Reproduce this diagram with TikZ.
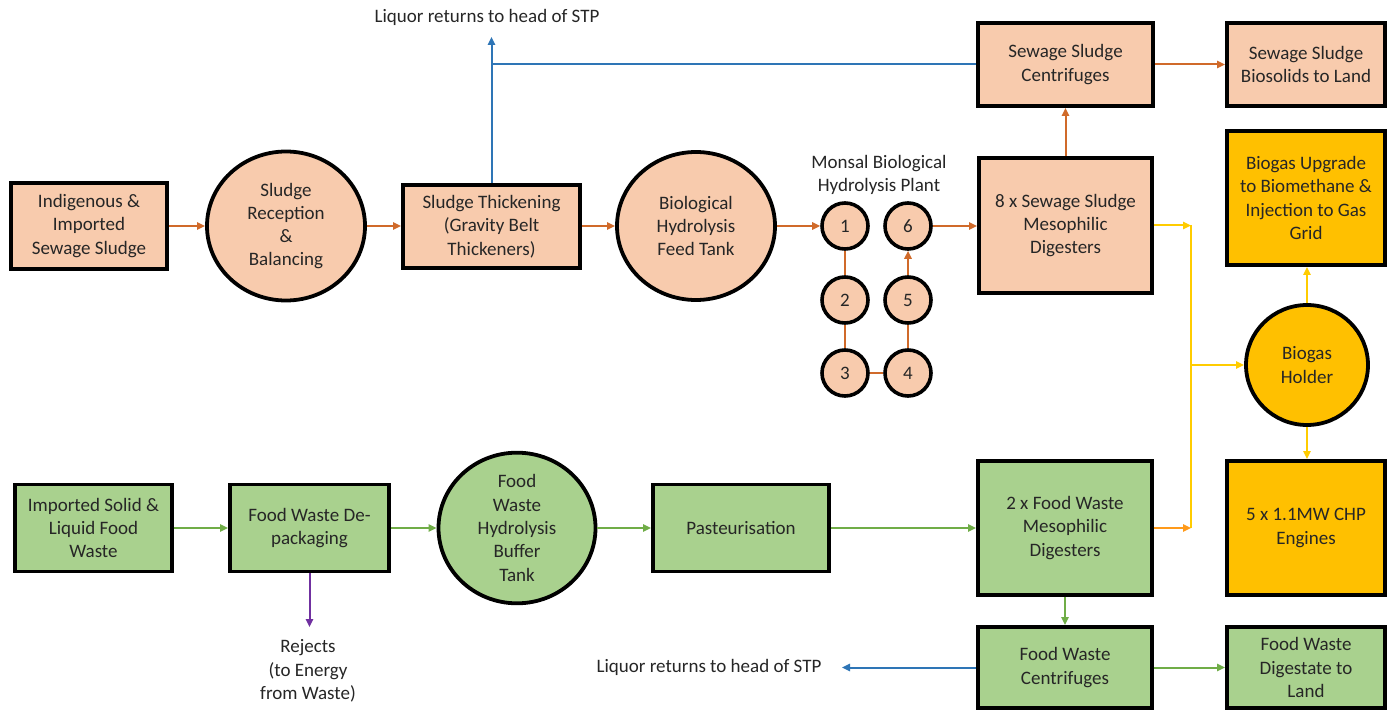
\documentclass[tikz,border=0pt]{standalone}
\usepackage{fontspec}
\setmainfont{Carlito}
\usetikzlibrary{arrows.meta,shapes.geometric}
\definecolor{peach}{HTML}{F8CBAD}
\definecolor{lgreen}{HTML}{A9D18E}
\definecolor{gold}{HTML}{FFC000}
\definecolor{brn}{HTML}{D06A2A}
\definecolor{blu}{HTML}{2E75B6}
\definecolor{grn}{HTML}{70AD47}
\definecolor{ylw}{HTML}{FFCC00}
\definecolor{org}{HTML}{FF9A1A}
\definecolor{prp}{HTML}{7030A0}
\definecolor{txt}{HTML}{262626}
\tikzset{
  lbl/.style={font=\fontsize{9.5}{11.65}\selectfont, text=txt, align=center, inner sep=0pt},
  box/.style={lbl, draw=black, line width=1.9pt, rectangle},
  tank/.style={lbl, draw=black, line width=1.9pt, ellipse},
  stage/.style={lbl, draw=black, line width=1.8pt, circle, minimum size=23pt, fill=peach},
  flow/.style={line width=1pt, -{Triangle[length=4pt,width=3.6pt]}},
  pipe/.style={line width=1pt},
}
\begin{document}
\begin{tikzpicture}[x=0.5pt,y=-0.5pt]
\useasboundingbox[fill=white] (0,0) rectangle (1387,711);
% sewage sludge line
\node[box, fill=peach, minimum width=78pt, minimum height=43pt] (ind) at (89,226) {Indigenous \&\\Imported\\Sewage Sludge};
\node[tank, fill=peach, minimum width=79pt, minimum height=74.5pt] (rec) at (286,226) {Sludge\\Reception\\\&\\Balancing};
\node[box, fill=peach, minimum width=88.5pt, minimum height=41.5pt] (thk) at (491.5,226.5) {Sludge Thickening\\(Gravity Belt\\Thickeners)};
\node[tank, fill=peach, minimum width=79pt, minimum height=74pt] (feed) at (696,226) {Biological\\Hydrolysis\\Feed Tank};
\node[lbl] (monsal) at (879,175) {Monsal Biological\\Hydrolysis Plant};
\node[stage] (c1) at (845,226) {1};
\node[stage] (c2) at (845,300) {2};
\node[stage] (c3) at (845,373) {3};
\node[stage] (c4) at (908,373) {4};
\node[stage] (c5) at (908,300) {5};
\node[stage] (c6) at (908,226) {6};
\node[box, fill=peach, minimum width=86.5pt, minimum height=67.5pt] (dig8) at (1065.5,225.5) {8 x Sewage Sludge\\Mesophilic\\Digesters};
\node[box, fill=peach, minimum width=87.5pt, minimum height=41.5pt] (ssc) at (1065.5,64.5) {Sewage Sludge\\Centrifuges};
\node[box, fill=peach, minimum width=79pt, minimum height=41.5pt] (bio) at (1306,64.5) {Sewage Sludge\\Biosolids to Land};
\node[lbl] (liqtop) at (487,17) {Liquor returns to head of STP};
\coordinate (liqtip) at (491.5,37);
% biogas
\node[box, fill=gold, minimum width=79pt, minimum height=67pt] (upg) at (1306,198) {Biogas Upgrade\\to Biomethane \&\\Injection to Gas\\Grid};
\node[tank, fill=gold, minimum width=61pt, minimum height=60pt] (holder) at (1307,365) {Biogas\\Holder};
\node[box, fill=gold, minimum width=79pt, minimum height=67pt] (chp) at (1306,528) {5 x 1.1MW CHP\\Engines};
\coordinate (jt) at (1191,225.5);
\coordinate (jm) at (1191,365);
\coordinate (jb) at (1191,528);
% food waste line
\node[box, fill=lgreen, minimum width=78.5pt, minimum height=43.5pt] (imp) at (93.5,528) {Imported Solid \&\\Liquid Food\\Waste};
\node[box, fill=lgreen, minimum width=79.5pt, minimum height=43.5pt] (dpk) at (309.5,528) {Food Waste De-\\packaging};
\node[tank, fill=lgreen, minimum width=78.5pt, minimum height=75pt] (buf) at (517,528) {Food\\Waste\\Hydrolysis\\Buffer\\Tank};
\node[box, fill=lgreen, minimum width=88pt, minimum height=43.5pt] (pas) at (741,528) {Pasteurisation};
\node[box, fill=lgreen, minimum width=87pt, minimum height=67pt] (fwd) at (1065,528) {2 x Food Waste\\Mesophilic\\Digesters};
\node[box, fill=lgreen, minimum width=87pt, minimum height=40.5pt] (fwc) at (1065,667.5) {Food Waste\\Centrifuges};
\node[box, fill=lgreen, minimum width=79pt, minimum height=40.5pt] (dgl) at (1306,667.5) {Food Waste\\Digestate to\\Land};
\node[lbl] (rej) at (308,671) {Rejects\\(to Energy\\from Waste)};
\coordinate (rejtip) at (309.5,627);
\node[lbl] (liqbot) at (709,667) {Liquor returns to head of STP};
\coordinate (liqbtip) at (842,667.5);
% sewage connectors
\draw[flow,brn] (ind) -- (rec);
\draw[flow,brn] (rec) -- (thk.west |- rec);
\draw[flow,brn] (thk.east |- feed) -- (feed);
\draw[flow,brn] (feed) -- (c1);
\draw[pipe,brn] (c1) -- (c2);
\draw[pipe,brn] (c2) -- (c3);
\draw[pipe,brn] (c3) -- (c4);
\draw[pipe,brn] (c4) -- (c5);
\draw[flow,brn] (c5) -- (c6);
\draw[flow,brn] (c6.east) -- (c6.east -| dig8.west);
\draw[flow,brn] (dig8.north) -- (ssc.south);
\draw[flow,brn] (ssc) -- (bio);
\draw[pipe,blu] (ssc.west) -- (thk.north |- ssc.west);
\draw[flow,blu] (thk.north) -- (liqtip);
% biogas connectors
\draw[flow,ylw] (dig8.east) -- (jt);
\draw[pipe,ylw] (jt) -- (jb);
\draw[flow,org] (fwd.east) -- (jb);
\draw[flow,ylw] (jm) -- (holder.west);
\draw[flow,ylw] (holder.north) -- (holder.north |- upg.south);
\draw[flow,ylw] (holder.south) -- (holder.south |- chp.north);
% food waste connectors
\draw[flow,grn] (imp) -- (dpk);
\draw[flow,grn] (dpk) -- (buf);
\draw[flow,grn] (buf) -- (pas);
\draw[flow,grn] (pas) -- (fwd);
\draw[flow,grn] (fwd) -- (fwc);
\draw[flow,grn] (fwc) -- (dgl);
\draw[flow,prp] (dpk.south) -- (rejtip);
\draw[flow,blu] (fwc.west) -- (liqbtip);
\end{tikzpicture}
\end{document}
